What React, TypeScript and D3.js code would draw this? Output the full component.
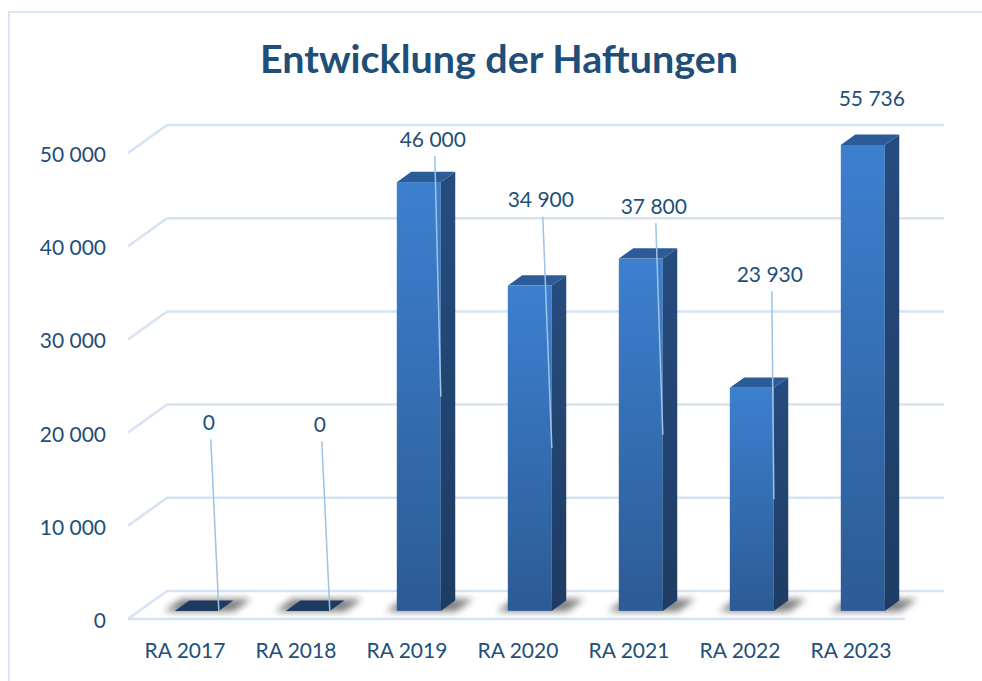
import React from "react";
import * as d3 from "d3";

// ---------- data ----------
const title = "Entwicklung der Haftungen";
const categories = ["RA 2017", "RA 2018", "RA 2019", "RA 2020", "RA 2021", "RA 2022", "RA 2023"];
const values = [0, 0, 46000, 34900, 37800, 23930, 55736];
const yTicks = [0, 10000, 20000, 30000, 40000, 50000];
const yMax = 50000;

// ---------- layout (data label placement, manual in original) ----------
const labelLevel = [21100, 20900, 51500, 45000, 44300, 37000, 55800];
const labelShift = [-10, -10, -8, -11, -9, -4, -13];
const showLeader = [true, true, true, true, true, true, false];

const W = 982;
const H = 681;
const FRONT_LEFT = 128;
const FRONT_RIGHT = 905;
const ZERO_Y = 619;
const TOP_Y = 153;
const DX = 39;
const DY = -28;
const D0 = 0.29;
const D1 = 0.66;
const BAR_W = 44;

const TEXT = "#1f4e79";
const GRID = "#d6e3f3";
const FONT = "Lato, 'Open Sans', sans-serif";

const fmt = d3.formatLocale({ decimal: ",", thousands: " ", grouping: [3], currency: ["", "€"] }).format(",");

export default function App() {
  const x = d3.scaleBand<string>().domain(categories).range([FRONT_LEFT, FRONT_RIGHT]).padding(0);
  const y = d3.scaleLinear().domain([0, yMax]).range([ZERO_Y, TOP_Y]);
  const P = (px: number, py: number, d: number): [number, number] => [px + DX * d, py + DY * d];
  const pts = (arr: [number, number][]) => arr.map((p) => p.join(",")).join(" ");

  const bars = categories.map((c, i) => {
    const v = Math.min(values[i], yMax);
    const cx = (x(c) as number) + x.bandwidth() / 2 + 2;
    const xl = cx - BAR_W / 2;
    const xr = cx + BAR_W / 2;
    const yT = y(v);
    const yB = y(0);
    return { c, i, v, xl, xr, yT, yB };
  });

  return (
    <svg width={W} height={H} style={{ position: "absolute", left: 0, top: 0, background: "#fff" }} fontFamily={FONT}>
      <defs>
        <linearGradient id="front" x1="0" y1="0" x2="0" y2="1">
          <stop offset="0" stopColor="#3d80d0" />
          <stop offset="1" stopColor="#2c5b95" />
        </linearGradient>
        <linearGradient id="side" x1="0" y1="0" x2="0" y2="1">
          <stop offset="0" stopColor="#264c7e" />
          <stop offset="1" stopColor="#1e3c63" />
        </linearGradient>
        <filter id="blur" x="-50%" y="-200%" width="200%" height="500%">
          <feGaussianBlur stdDeviation="3.5" />
        </filter>
      </defs>

      <rect x={9} y={12} width={1000} height={700} fill="#fff" stroke="#cfdef0" strokeWidth={1.5} />

      <text x={499} y={73} textAnchor="middle" fontSize={39} fontWeight={700} fill={TEXT} textLength={478} lengthAdjust="spacingAndGlyphs">
        {title}
      </text>

      {/* gridlines: back wall + left side */}
      {yTicks.map((t) => {
        const yy = y(t);
        const [bx0, by] = P(FRONT_LEFT, yy, 1);
        const [bx1] = P(FRONT_RIGHT, yy, 1);
        return (
          <g key={t}>
            <line x1={FRONT_LEFT} y1={yy} x2={bx0} y2={by} stroke={GRID} strokeWidth={2.5} />
            <line x1={bx0} y1={by} x2={bx1} y2={by} stroke={GRID} strokeWidth={2.5} />
          </g>
        );
      })}
      <line x1={FRONT_LEFT} y1={y(0)} x2={FRONT_RIGHT} y2={y(0)} stroke={GRID} strokeWidth={2.5} />

      {/* y labels */}
      {yTicks.map((t) => (
        <text key={t} x={106} y={y(t) + 9} textAnchor="end" fontSize={21} fill={TEXT}>
          {fmt(t)}
        </text>
      ))}

      {/* x labels */}
      {categories.map((c) => (
        <text key={c} x={(x(c) as number) + x.bandwidth() / 2 + 1.5} y={658} textAnchor="middle" fontSize={21} fill={TEXT}>
          {c}
        </text>
      ))}

      {/* shadows */}
      {bars.map((b) => (
        <polygon
          key={"s" + b.c}
          points={pts([P(b.xl - 10, b.yB, D0 - 0.02), P(b.xl - 10, b.yB, D1 + 0.05), P(b.xr + 16, b.yB, D1 + 0.05), P(b.xr + 16, b.yB, D0 - 0.02)])}
          fill="#000"
          opacity={0.5}
          filter="url(#blur)"
        />
      ))}

      {/* bars */}
      {bars.map((b) => {
        if (b.v === 0) {
          return (
            <polygon
              key={b.c}
              points={pts([P(b.xl, b.yB, D0), P(b.xl, b.yB, D1), P(b.xr, b.yB, D1), P(b.xr, b.yB, D0)])}
              fill="#1d3a5f"
            />
          );
        }
        const [fx0, fyT] = P(b.xl, b.yT, D0);
        const [fx1, fyB] = P(b.xr, b.yB, D0);
        return (
          <g key={b.c}>
            <rect x={fx0} y={fyT} width={fx1 - fx0} height={fyB - fyT} fill="url(#front)" />
            <polygon points={pts([P(b.xr, b.yT, D0), P(b.xr, b.yT, D1), P(b.xr, b.yB, D1), P(b.xr, b.yB, D0)])} fill="url(#side)" />
            <polygon points={pts([P(b.xl, b.yT, D0), P(b.xl, b.yT, D1), P(b.xr, b.yT, D1), P(b.xr, b.yT, D0)])} fill="#2c5c98" />
          </g>
        );
      })}

      {/* data labels + leader lines */}
      {bars.map((b) => {
        const [frx, fry] = P(b.xr, b.yT, D0);
        const [, fryB] = P(b.xr, b.yB, D0);
        const lx = frx + labelShift[b.i];
        const ly = y(labelLevel[b.i]);
        return (
          <g key={"l" + b.c}>
            {showLeader[b.i] && (
              <line x1={lx + 2} y1={ly + 17} x2={frx} y2={(fry + fryB) / 2} stroke="#9dc3e6" strokeWidth={1.5} />
            )}
            <text x={lx} y={ly + 7.5} textAnchor="middle" fontSize={21} fill={TEXT}>
              {fmt(values[b.i])}
            </text>
          </g>
        );
      })}
    </svg>
  );
}
